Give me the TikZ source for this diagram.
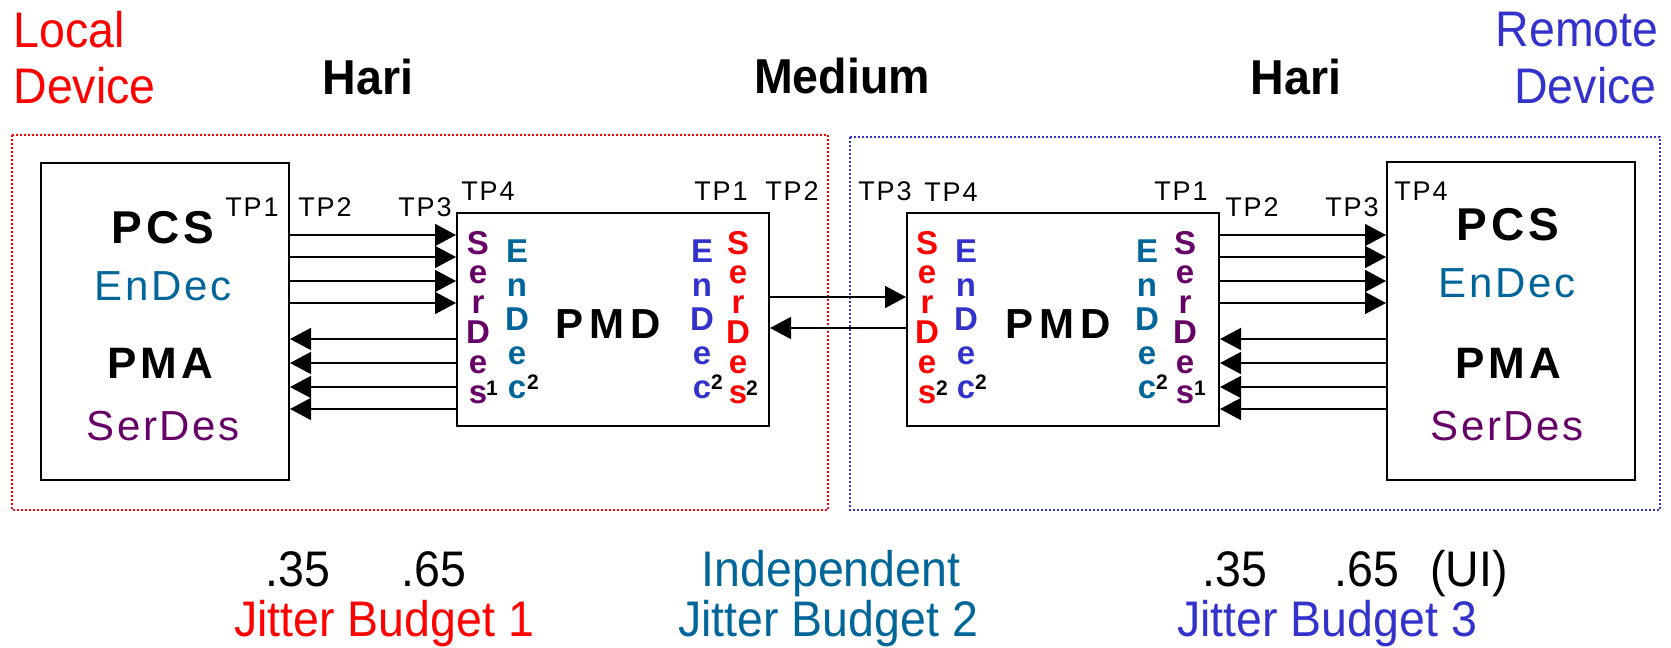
\documentclass[tikz,border=0pt]{standalone}
\usepackage{fontspec}
\setmainfont{Liberation Sans}
\usetikzlibrary{arrows.meta}

\definecolor{devred}{HTML}{FF0000}
\definecolor{devblue}{HTML}{3333CC}
\definecolor{codeteal}{HTML}{006699}
\definecolor{serpurple}{HTML}{660066}

\newcommand{\fs}[1]{\fontsize{#1}{#1}\selectfont}

\tikzset{
    blk/.style={draw, line width=2pt, inner sep=0pt},
    sig/.style={line width=1.6pt, -{Triangle[length=21pt,width=22pt]}},
    dotbox/.style={line width=2pt, dash pattern=on 2pt off 2pt},
    tp/.style={anchor=base, font=\fs{27}\addfontfeature{LetterSpace=7}},
    stk/.style={anchor=base, inner sep=0pt, font=\fs{33}\bfseries},
    sup/.style={inner sep=0pt, font=\fs{21}\bfseries},
    bigb/.style={anchor=base, font=\fs{46}\bfseries\addfontfeature{LetterSpace=9}},
    bigr/.style={anchor=base, font=\fs{42}\addfontfeature{LetterSpace=6}},
    pmdl/.style={anchor=base, font=\fs{42}\bfseries\addfontfeature{LetterSpace=15}},
    head/.style={anchor=base, font=\fs{49}\bfseries\addfontfeature{FakeStretch=0.95}},
    txt/.style={anchor=base, font=\fs{50}\addfontfeature{FakeStretch=0.93}}
}

\begin{document}
\begin{tikzpicture}[x=1pt, y=-1pt]
        \useasboundingbox (0,0) rectangle (1671,648);

        % Device borders
        \draw[devred, dotbox] (12,135) rectangle (828,510);
        \draw[devblue, dotbox] (850,137) rectangle (1660,510);

        % Blocks
        \node[blk, minimum width=248pt, minimum height=317pt] (lpcs) at (165,321.5) {};
        \node[blk, minimum width=312pt, minimum height=213pt] (lpmd) at (613,319.5) {};
        \node[blk, minimum width=312pt, minimum height=213pt] (rpmd) at (1063,319.5) {};
        \node[blk, minimum width=248pt, minimum height=318pt] (rpcs) at (1511,321) {};

        % Parallel lanes, local side
        \foreach \y in {235,257,281,303}
            \draw[sig] (lpcs.east |- 0,\y) -- (lpmd.west |- 0,\y);
        \foreach \y in {339,363,387,409}
            \draw[sig] (lpmd.west |- 0,\y) -- (lpcs.east |- 0,\y);

        % Parallel lanes, remote side
        \foreach \y in {235,257,281,303}
            \draw[sig] (rpmd.east |- 0,\y) -- (rpcs.west |- 0,\y);
        \foreach \y in {339,363,387,409}
            \draw[sig] (rpcs.west |- 0,\y) -- (rpmd.east |- 0,\y);

        % Serial link over the medium
        \draw[sig] (lpmd.east |- 0,297) -- (rpmd.west |- 0,297);
        \draw[sig] (rpmd.west |- 0,328) -- (lpmd.east |- 0,328);

        % Test points
        \foreach \tx/\ty/\t [count=\k] in {252/216/TP1, 325/216/TP2, 425/216/TP3, 488/200/TP4,
                721/200/TP1, 792/200/TP2, 885/200/TP3, 951/201/TP4,
                1181/200/TP1, 1252/216/TP2, 1352/216/TP3, 1421/200/TP4}
            \node[tp] (tp\k) at (\tx,\ty) {\t};

        % Layer names in the outer blocks
        \node[bigb] (lpcsT) at (163,243) {PCS};
        \node[bigr, text=codeteal] (lendT) at (163,300) {EnDec};
        \node[bigb, font=\fs{44}\bfseries\addfontfeature{LetterSpace=9}] (lpmaT) at (160,378) {PMA};
        \node[bigr, text=serpurple] (lserT) at (163,440) {SerDes};
        \node[bigb] (rpcsT) at (1508,240) {PCS};
        \node[bigr, text=codeteal] (rendT) at (1507,297) {EnDec};
        \node[bigb, font=\fs{44}\bfseries\addfontfeature{LetterSpace=9}] (rpmaT) at (1508,378) {PMA};
        \node[bigr, text=serpurple] (rserT) at (1507,440) {SerDes};

        \node[pmdl] (lpmdT) at (608,338) {PMD};
        \node[pmdl] (rpmdT) at (1058,338) {PMD};

        % Vertical SerDes / EnDec columns
        \foreach \sx/\col/\nm in {478/serpurple/a, 738/devred/b, 927/devred/c, 1185/serpurple/d}
            \foreach \ch [count=\i from 0] in {S,e,r,D,e,s}
                \node[stk, text=\col] (ser\nm\i) at (\sx, {254+29.8*\i}) {\ch};
        \foreach \sx/\col/\nm in {517/codeteal/a, 702/devblue/b, 966/devblue/c, 1147/codeteal/d}
            \foreach \ch [count=\i from 0] in {E,n,D,e,c}
                \node[stk, text=\col] (end\nm\i) at (\sx, {262+34*\i}) {\ch};

        % Footnote marks
        \foreach \sx/\sy/\n [count=\k] in {492/388/1, 533/382/2, 717/382/2, 752/388/2,
                942/388/2, 981/382/2, 1162/382/2, 1200/388/1}
            \node[sup] (mk\k) at (\sx,\sy) {\n};

        % Titles
        \node[txt, anchor=base west, text=devred] (loc1) at (10,47) {Local};
        \node[txt, anchor=base west, text=devred] (loc2) at (10,103) {Device};
        \node[txt, anchor=base east, text=devblue] (rem1) at (1662,46) {Remote};
        \node[txt, anchor=base east, text=devblue] (rem2) at (1660,103) {Device};
        \node[head] (hariL) at (368,94) {Hari};
        \node[head] (med) at (842,93) {Medium};
        \node[head] (hariR) at (1296,94) {Hari};

        % Jitter budgets
        \node[txt] (lo1) at (298,586) {.35};
        \node[txt] (hi1) at (434,586) {.65};
        \node[txt, text=codeteal] (ind) at (831,586) {Independent};
        \node[txt] (lo3) at (1235,586) {.35};
        \node[txt] (hi3) at (1367,586) {.65};
        \node[txt] (ui) at (1469,586) {(UI)};
        \node[txt, text=devred] (jb1) at (384,636) {Jitter Budget 1};
        \node[txt, text=codeteal] (jb2) at (828,636) {Jitter Budget 2};
        \node[txt, text=devblue] (jb3) at (1327,636) {Jitter Budget 3};
\end{tikzpicture}
\end{document}
